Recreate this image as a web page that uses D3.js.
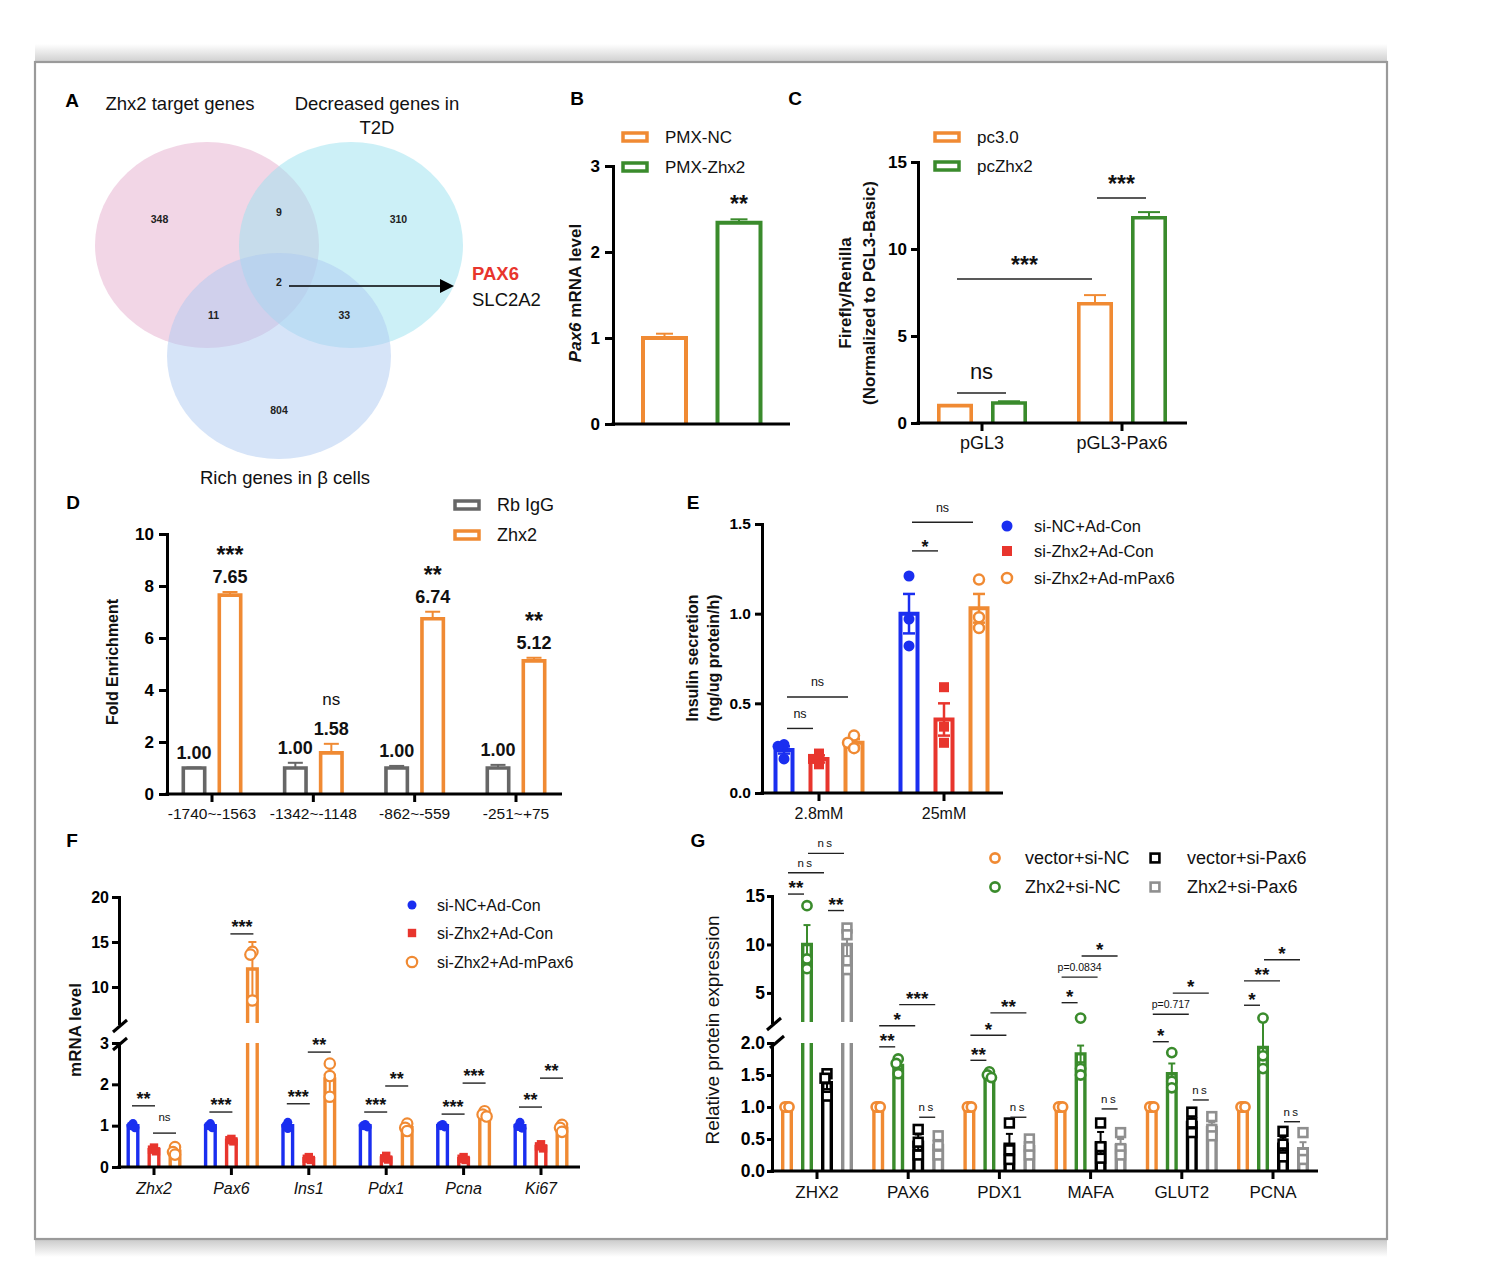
<!DOCTYPE html>
<html><head><meta charset="utf-8"><title>Figure</title>
<script src="https://cdn.jsdelivr.net/npm/d3@7/dist/d3.min.js"></script>
<style>html,body{margin:0;padding:0;background:#fff;}svg{display:block;}</style>
</head><body>
<svg id="fig" width="1498" height="1262" style="font-family:'Liberation Sans',Arial,Helvetica,sans-serif"></svg>
<script>
// ================= DATA =================
// Panel A (Venn)
const vennSetNames = ["Zhx2 target genes", "Decreased genes in|T2D", "Rich genes in β cells"];
const vennRegions = [[0],[0,1],[1],[0,1,2],[0,2],[1,2],[2]];
const vennCounts = [348, 9, 310, 2, 11, 33, 804];
const vennHits = ["PAX6", "SLC2A2"];
// Panel B
const bGroups = ["PMX-NC", "PMX-Zhx2"];
const bMeans = [1.0, 2.34];
const bSem = [0.05, 0.04];
const bSig = ["", "**"];
// Panel C
const cCats = ["pGL3", "pGL3-Pax6"];
const cSeries = ["pc3.0", "pcZhx2"];
const cMeans = [[1.0, 1.15], [6.85, 11.8]];
const cSem = [[0.03, 0.1], [0.5, 0.32]];
const cSig = [
  {a:[0,0], b:[0,1], level:1.72, label:"ns"},
  {a:[0,0], b:[1,0], level:8.28, label:"***"},
  {a:[1,0], b:[1,1], level:12.93, label:"***"}
];
// Panel D
const dCats = ["-1740~-1563", "-1342~-1148", "-862~-559", "-251~+75"];
const dSeries = ["Rb IgG", "Zhx2"];
const dIgG = [1.00, 1.00, 1.00, 1.00];
const dIgGSem = [0.02, 0.2, 0.08, 0.12];
const dZhx2 = [7.65, 1.58, 6.74, 5.12];
const dZhx2Sem = [0.12, 0.35, 0.27, 0.12];
const dSig = ["***", "ns", "**", "**"];
// Panel E
const eCats = ["2.8mM", "25mM"];
const eSeries = ["si-NC+Ad-Con", "si-Zhx2+Ad-Con", "si-Zhx2+Ad-mPax6"];
const eMeans = [[0.24, 0.19, 0.28], [1.0, 0.41, 1.03]];
const eSem = [[0.02, 0.02, 0.02], [0.11, 0.09, 0.08]];
const ePoints = [
  [[0.27, 0.26, 0.19], [0.22, 0.19, 0.16], [0.32, 0.28, 0.25]],
  [[1.21, 0.97, 0.82], [0.59, 0.37, 0.28], [1.19, 0.98, 0.92]]
];
const eSig = [
  {cat:0, a:0, b:1, level:0.36, label:"ns"},
  {cat:0, a:0, b:2, level:0.535, label:"ns"},
  {cat:1, a:0, b:1, level:1.35, label:"*"},
  {cat:1, a:0, b:2, level:1.51, label:"ns"}
];
// Panel F
const fCats = ["Zhx2", "Pax6", "Ins1", "Pdx1", "Pcna", "Ki67"];
const fSeries = ["si-NC+Ad-Con", "si-Zhx2+Ad-Con", "si-Zhx2+Ad-mPax6"];
const fMeans = [
  [1, 1, 1, 1, 1, 1],
  [0.42, 0.65, 0.2, 0.22, 0.2, 0.5],
  [0.38, 12.0, 2.13, 0.95, 1.28, 0.94]
];
const fSem = [
  [0.03, 0.03, 0.04, 0.02, 0.02, 0.04],
  [0.03, 0.02, 0.02, 0.03, 0.02, 0.03],
  [0.05, 3.0, 0.35, 0.05, 0.04, 0.05]
];
const fPoints = [
  [[1.05,1.0,0.95],[1.05,1.0,0.95],[1.08,1.0,0.93],[1.03,1.0,0.97],[1.03,1.0,0.97],[1.08,0.98,0.94]],
  [[0.47,0.42,0.38],[0.68,0.65,0.62],[0.24,0.2,0.17],[0.27,0.21,0.18],[0.24,0.2,0.17],[0.55,0.5,0.45]],
  [[0.48,0.36,0.3],[13.9,13.6,8.5],[2.5,2.2,1.7],[1.05,0.95,0.87],[1.35,1.27,1.22],[1.02,0.95,0.85]]
];
const fSig = [
  {cat:0,a:0,b:1,level:1.48,seg:"lo",label:"**"},  {cat:0,a:1,b:2,level:0.82,seg:"lo",label:"ns"},
  {cat:1,a:0,b:1,level:1.33,seg:"lo",label:"***"}, {cat:1,a:1,b:2,level:15.9,seg:"hi",label:"***"},
  {cat:2,a:0,b:1,level:1.53,seg:"lo",label:"***"}, {cat:2,a:1,b:2,level:2.78,seg:"lo",label:"**"},
  {cat:3,a:0,b:1,level:1.33,seg:"lo",label:"***"}, {cat:3,a:1,b:2,level:1.96,seg:"lo",label:"**"},
  {cat:4,a:0,b:1,level:1.28,seg:"lo",label:"***"}, {cat:4,a:1,b:2,level:2.03,seg:"lo",label:"***"},
  {cat:5,a:0,b:1,level:1.45,seg:"lo",label:"**"},  {cat:5,a:1,b:2,level:2.15,seg:"lo",label:"**"}
];
// Panel G
const gCats = ["ZHX2", "PAX6", "PDX1", "MAFA", "GLUT2", "PCNA"];
const gSeries = ["vector+si-NC", "Zhx2+si-NC", "vector+si-Pax6", "Zhx2+si-Pax6"];
const gMeans = [
  [1, 1, 1, 1, 1, 1],
  [10.0, 1.65, 1.5, 1.83, 1.52, 1.93],
  [1.38, 0.45, 0.42, 0.44, 0.76, 0.42],
  [10.0, 0.4, 0.38, 0.4, 0.68, 0.35]
];
const gSem = [
  [0, 0, 0, 0, 0, 0],
  [2.0, 0.05, 0.03, 0.13, 0.16, 0.1],
  [0.1, 0.12, 0.16, 0.17, 0.12, 0.1],
  [1.2, 0.1, 0.08, 0.1, 0.08, 0.1]
];
const gPoints = [
  [[1,1,1],[1,1,1],[1,1,1],[1,1,1],[1,1,1],[1,1,1]],
  [[14,8.5,7.5],[1.75,1.68,1.52],[1.55,1.5,1.46],[2.4,1.6,1.5],[1.85,1.4,1.3],[2.4,1.8,1.6]],
  [[1.52,1.45,1.17],[0.65,0.45,0.25],[0.75,0.33,0.18],[0.75,0.38,0.2],[0.92,0.75,0.6],[0.62,0.42,0.22]],
  [[11.7,11.0,7.4],[0.55,0.4,0.25],[0.5,0.38,0.25],[0.6,0.35,0.25],[0.85,0.65,0.55],[0.6,0.28,0.18]]
];
const gSig = [
  {cat:0,a:0,b:1,level:15.2,seg:"hi",label:"**"},{cat:0,a:0,b:2,level:17.4,seg:"hi",label:"ns"},
  {cat:0,a:1,b:3,level:19.4,seg:"hi",label:"ns"},{cat:0,a:2,b:3,level:13.5,seg:"hi",label:"**"},
  {cat:1,a:0,b:1,level:1.94,seg:"lo",label:"**"},{cat:1,a:0,b:2,level:2.27,seg:"lo",label:"*"},
  {cat:1,a:1,b:3,level:2.6,seg:"lo",label:"***"},{cat:1,a:2,b:3,level:0.84,seg:"lo",label:"ns"},
  {cat:2,a:0,b:1,level:1.73,seg:"lo",label:"**"},{cat:2,a:0,b:2,level:2.12,seg:"lo",label:"*"},
  {cat:2,a:1,b:3,level:2.47,seg:"lo",label:"**"},{cat:2,a:2,b:3,level:0.84,seg:"lo",label:"ns"},
  {cat:3,a:0,b:1,level:2.63,seg:"lo",label:"*"},{cat:3,a:0,b:2,level:3.03,seg:"lo",label:"p=0.0834"},
  {cat:3,a:1,b:3,level:3.36,seg:"lo",label:"*"},{cat:3,a:2,b:3,level:0.97,seg:"lo",label:"ns"},
  {cat:4,a:0,b:1,level:2.02,seg:"lo",label:"*"},{cat:4,a:0,b:2,level:2.45,seg:"lo",label:"p=0.717"},
  {cat:4,a:1,b:3,level:2.78,seg:"lo",label:"*"},{cat:4,a:2,b:3,level:1.11,seg:"lo",label:"ns"},
  {cat:5,a:0,b:1,level:2.59,seg:"lo",label:"*"},{cat:5,a:0,b:2,level:2.97,seg:"lo",label:"**"},
  {cat:5,a:1,b:3,level:3.3,seg:"lo",label:"*"},{cat:5,a:2,b:3,level:0.77,seg:"lo",label:"ns"}
];

// ================= STYLE / HELPERS =================
const FF = "'Liberation Sans', Arial, Helvetica, sans-serif";
const ORANGE = "#F08A33", GREEN = "#3A8B2C", BLUE = "#1A2EF0", RED = "#E8352D";
const DGRAY = "#676767", LGRAY = "#8F8F8F", INK = "#111";
const svg = d3.select("#fig");

function ct(g, x, yc, s, size, opt = {}) {
  const stars = /^\*+$/.test(s);
  const lower = /^[acemnorsuvwxz]+$/.test(s);
  const k = stars ? 0.6 : (lower ? 0.27 : 0.36);
  const t = g.append("text").attr("x", x).attr("y", yc + k * size).text(s)
    .attr("font-size", size).attr("font-family", FF)
    .attr("font-weight", opt.weight || "normal")
    .attr("text-anchor", opt.anchor || "middle")
    .attr("fill", opt.fill || INK);
  if (opt.italic) t.attr("font-style", "italic");
  if (opt.ls) t.attr("letter-spacing", opt.ls);
  return t;
}
function rlabel(g, cx, cy, parts, size, weight) {
  const t = g.append("text").attr("transform", `translate(${cx + 0.36 * size},${cy}) rotate(-90)`)
    .attr("text-anchor", "middle").attr("font-size", size).attr("font-weight", weight || "bold")
    .attr("font-family", FF).attr("fill", INK);
  parts.forEach(p => { const ts = t.append("tspan").text(p[0]); if (p[1]) ts.attr("font-style", "italic"); });
}
function yAxis(g, scale, x, ticks, fmt, size, tsz, pad) {
  const ax = d3.axisLeft(scale).tickValues(ticks).tickFormat(fmt).tickSize(tsz || 7).tickSizeOuter(0).tickPadding(pad == null ? 4 : pad);
  const a = g.append("g").attr("transform", `translate(${x},0)`).call(ax).attr("font-family", FF);
  a.select(".domain").attr("stroke", "#000").attr("stroke-width", 3).attr("stroke-linecap", "square");
  a.selectAll(".tick line").attr("stroke", "#000").attr("stroke-width", 3);
  a.selectAll(".tick text").attr("font-size", size).attr("font-weight", "bold").attr("fill", "#000");
  return a;
}
function hline(g, x1, x2, y, sw, color) {
  g.append("line").attr("x1", x1).attr("x2", x2).attr("y1", y).attr("y2", y)
    .attr("stroke", color || "#000").attr("stroke-width", sw);
}
function vline(g, x, y1, y2, sw, color) {
  g.append("line").attr("x1", x).attr("x2", x).attr("y1", y1).attr("y2", y2)
    .attr("stroke", color || "#000").attr("stroke-width", sw);
}
function xTicks(g, xs, y, len) { xs.forEach(x => vline(g, x, y, y + len, 3)); }
function barShape(g, cx, outerW, yTop, yBase, color, sw) {
  const w = outerW - sw;
  g.append("path").attr("d", `M${cx - w / 2},${yBase}V${yTop}H${cx + w / 2}V${yBase}`)
    .attr("fill", "none").attr("stroke", color).attr("stroke-width", sw);
}
function errBar(g, cx, yM, yHi, yLo, capW, color, sw) {
  vline(g, cx, yM, yHi, sw, color); hline(g, cx - capW / 2, cx + capW / 2, yHi, sw, color);
  if (yLo != null) { vline(g, cx, yM, yLo, sw, color); hline(g, cx - capW / 2, cx + capW / 2, yLo, sw, color); }
}
function marker(g, type, x, y, color, s, sw) {
  if (type === "dot") g.append("circle").attr("cx", x).attr("cy", y).attr("r", s).attr("fill", color);
  else if (type === "sq") g.append("rect").attr("x", x - s).attr("y", y - s).attr("width", 2 * s).attr("height", 2 * s).attr("fill", color);
  else if (type === "oc") g.append("circle").attr("cx", x).attr("cy", y).attr("r", s).attr("fill", "#fff").attr("stroke", color).attr("stroke-width", sw);
  else if (type === "os") g.append("rect").attr("x", x - s).attr("y", y - s).attr("width", 2 * s).attr("height", 2 * s).attr("fill", "#fff").attr("stroke", color).attr("stroke-width", sw);
}
function jitter(ys, d, k) {
  const off = ys.map(() => 0);
  for (let i = 1; i < ys.length; i++) {
    const taken = new Set();
    for (let j = 0; j < i; j++) if (Math.abs(ys[i] - ys[j]) < d) taken.add(off[j]);
    if (taken.has(0)) off[i] = taken.has(-k) ? k : -k;
    if (taken.has(off[i]) && off[i] !== 0) off[i] = taken.has(k) ? (taken.has(-k) ? 0 : -k) : k;
  }
  return off;
}
function sigLine(g, x1, x2, y, label, size, gap, opt = {}) {
  hline(g, x1, x2, y, 1.4, "#222");
  ct(g, (x1 + x2) / 2, y - gap, label, size, opt);
}
function legendRect(g, x, y, color, label, size) {
  g.append("rect").attr("x", x).attr("y", y - 4).attr("width", 24).attr("height", 8)
    .attr("fill", "#fff").attr("stroke", color).attr("stroke-width", 3.5);
  ct(g, x + 42, y, label, size, { anchor: "start" });
}
function panelLetter(x, y, s) { ct(svg, x, y, s, 19, { weight: "bold", fill: "#000" }); }

// ================= FRAME =================
const defs = svg.append("defs");
const gt = defs.append("linearGradient").attr("id", "shTop").attr("x1", 0).attr("y1", 0).attr("x2", 0).attr("y2", 1);
gt.append("stop").attr("offset", 0).attr("stop-color", "#fff");
gt.append("stop").attr("offset", 1).attr("stop-color", "#cfcfcf");
const gb = defs.append("linearGradient").attr("id", "shBot").attr("x1", 0).attr("y1", 0).attr("x2", 0).attr("y2", 1);
gb.append("stop").attr("offset", 0).attr("stop-color", "#c9c9c9");
gb.append("stop").attr("offset", 1).attr("stop-color", "#fff");
svg.append("rect").attr("x", 35).attr("y", 44).attr("width", 1352).attr("height", 18).attr("fill", "url(#shTop)");
svg.append("rect").attr("x", 35).attr("y", 1239).attr("width", 1352).attr("height", 18).attr("fill", "url(#shBot)");
svg.append("rect").attr("x", 35).attr("y", 62).attr("width", 1352).attr("height", 1177)
  .attr("fill", "#fff").attr("stroke", "#9a9a9a").attr("stroke-width", 2.2);

// ================= PANEL A =================
(function () {
  const g = svg.append("g");
  panelLetter(72, 100, "A");
  const centers = [[207, 245], [351, 245], [279, 356]];
  const rx = 112, ry = 103;
  const fills = ["#e5adcd", "#99e1ef", "#adc9f1"];
  centers.forEach((c, i) => g.append("ellipse").attr("cx", c[0]).attr("cy", c[1]).attr("rx", rx).attr("ry", ry)
    .attr("fill", fills[i]).attr("fill-opacity", 0.5));
  const t0 = vennSetNames[0], t1 = vennSetNames[1].split("|"), t2 = vennSetNames[2];
  ct(g, 180, 103, t0, 18.5);
  ct(g, 377, 103, t1[0], 18.5); ct(g, 377, 127, t1[1], 18.5);
  ct(g, 285, 477, t2, 18.5);
  vennRegions.forEach((reg, i) => {
    let px = d3.mean(reg, k => centers[k][0]), py = d3.mean(reg, k => centers[k][1]);
    const others = [0, 1, 2].filter(k => !reg.includes(k));
    let dx = 0, dy = 0;
    others.forEach(k => { const vx = px - centers[k][0], vy = py - centers[k][1]; const n = Math.hypot(vx, vy) || 1; dx += vx / n; dy += vy / n; });
    const n = Math.hypot(dx, dy) || 1;
    const dist = reg.length === 1 ? 54 : (reg.length === 2 ? 33 : 0);
    ct(g, px + dx / n * dist, py + dy / n * dist, String(vennCounts[i]), 10.5, { weight: "bold", fill: "#222" });
  });
  hline(g, 289, 443, 286, 1.6, "#000");
  g.append("path").attr("d", "M440,279 L454,286 L440,293 Z").attr("fill", "#000");
  ct(g, 472, 273, vennHits[0], 18.5, { anchor: "start", weight: "bold", fill: "#E8352D" });
  ct(g, 472, 299, vennHits[1], 18.5, { anchor: "start" });
})();

// ================= PANEL B =================
(function () {
  const g = svg.append("g");
  panelLetter(577, 98, "B");
  const y = d3.scaleLinear().domain([0, 3]).range([424, 166]);
  const x = d3.scalePoint().domain(bGroups).range([664.5, 739]);
  const cols = [ORANGE, GREEN];
  bGroups.forEach((k, i) => {
    const cx = x(k);
    errBar(g, cx, y(bMeans[i]), y(bMeans[i] + bSem[i]), null, 17, cols[i], 2);
    barShape(g, cx, 47, y(bMeans[i]), 424, cols[i], 4);
    if (bSig[i]) ct(g, cx, y(bMeans[i] + bSem[i]) - 21, bSig[i], 23, { weight: "bold" });
  });
  yAxis(g, y, 613, [0, 1, 2, 3], d3.format("d"), 17, 8, 5);
  hline(g, 611.5, 790, 424, 3);
  rlabel(g, 575, 293, [["Pax6", true], [" mRNA level", false]], 17, "bold");
  bGroups.forEach((k, i) => legendRect(g, 623, 137 + i * 30, cols[i], k, 17));
})();

// ================= PANEL C =================
(function () {
  const g = svg.append("g");
  panelLetter(795, 98, "C");
  const y = d3.scaleLinear().domain([0, 15]).range([423, 162]);
  const x0 = d3.scalePoint().domain(cCats).range([982, 1122]);
  const x1 = d3.scalePoint().domain(cSeries).range([-27, 27]);
  const cols = [ORANGE, GREEN];
  const cx = (ci, si) => x0(cCats[ci]) + x1(cSeries[si]);
  cCats.forEach((c, ci) => cSeries.forEach((s, si) => {
    const m = cMeans[ci][si], e = cSem[ci][si];
    errBar(g, cx(ci, si), y(m), y(m + e), null, 22, cols[si], 2);
    barShape(g, cx(ci, si), 36, y(m), 423, cols[si], 3.6);
  }));
  cSig.forEach(s => {
    const xa = cx(s.a[0], s.a[1]), xb = cx(s.b[0], s.b[1]);
    sigLine(g, xa + 2, xb - 3, y(s.level), s.label, s.label === "ns" ? 22 : 23, 20, { weight: s.label === "ns" ? "normal" : "bold" });
  });
  yAxis(g, y, 918, [0, 5, 10, 15], d3.format("d"), 17);
  hline(g, 916.5, 1187, 423, 3);
  xTicks(g, cCats.map(c => x0(c)), 423, 8);
  cCats.forEach(c => ct(g, x0(c), 443, c, 18));
  rlabel(g, 845, 293, [["Firefly/Renilla", false]], 17, "bold");
  rlabel(g, 869, 293, [["(Normalized to PGL3-Basic)", false]], 17, "bold");
  cSeries.forEach((s, i) => legendRect(g, 935, 137 + i * 29, cols[i], s, 17));
})();

// ================= PANEL D =================
(function () {
  const g = svg.append("g");
  panelLetter(73, 502, "D");
  const y = d3.scaleLinear().domain([0, 10]).range([794, 534]);
  const x0 = d3.scalePoint().domain(dCats).range([212, 516]);
  const x1 = d3.scalePoint().domain(dSeries).range([-18, 18]);
  const series = [[dIgG, dIgGSem, DGRAY], [dZhx2, dZhx2Sem, ORANGE]];
  dCats.forEach((c, ci) => {
    series.forEach((s, si) => {
      const cx = x0(c) + x1(dSeries[si]);
      const m = s[0][ci], e = s[1][ci];
      errBar(g, cx, y(m), y(m + e), null, 15, s[2], 2);
      barShape(g, cx, 25, y(m), 794, s[2], 3.6);
      const lc = y(m + e) - 15;
      ct(g, cx, lc, d3.format(".2f")(m), 18, { weight: "bold" });
      if (si === 1) {
        const ns = dSig[ci] === "ns";
        ct(g, cx, lc - 28, dSig[ci], ns ? 17 : 23, { weight: ns ? "normal" : "bold" });
      }
    });
  });
  yAxis(g, y, 167, [0, 2, 4, 6, 8, 10], d3.format("d"), 17, 8, 5);
  hline(g, 165.5, 562, 794, 3);
  xTicks(g, dCats.map(c => x0(c)), 794, 8);
  dCats.forEach(c => ct(g, x0(c), 813, c, 15.5));
  rlabel(g, 112, 662, [["Fold Enrichment", false]], 16, "bold");
  legendRect(g, 455, 505, DGRAY, dSeries[0], 18);
  legendRect(g, 455, 535, ORANGE, dSeries[1], 18);
})();

// ================= PANEL E =================
(function () {
  const g = svg.append("g");
  panelLetter(693, 502, "E");
  const y = d3.scaleLinear().domain([0, 1.5]).range([793, 524]);
  const x0 = d3.scalePoint().domain(eCats).range([819, 944]);
  const x1 = d3.scalePoint().domain(eSeries).range([-35, 35]);
  const cols = [BLUE, RED, ORANGE];
  const mk = [["dot", 5.5, 0], ["sq", 5, 0], ["oc", 5, 2.5]];
  const cx = (ci, si) => x0(eCats[ci]) + x1(eSeries[si]);
  eCats.forEach((c, ci) => eSeries.forEach((s, si) => {
    const m = eMeans[ci][si], e = eSem[ci][si], X = cx(ci, si);
    barShape(g, X, 21, y(m), 793, cols[si], 4);
    errBar(g, X, y(m), y(m + e), y(m - e), 12, cols[si], 2.5);
    const ys = ePoints[ci][si].map(v => y(v));
    const off = jitter(ys, 9, 6);
    ys.forEach((yy, k) => marker(g, mk[si][0], X + off[k], yy, cols[si], mk[si][1], mk[si][2]));
  }));
  eSig.forEach(s => {
    const xa = cx(s.cat, s.a), xb = cx(s.cat, s.b);
    const star = s.label !== "ns";
    sigLine(g, xa + 3, xb - 6, y(s.level), s.label, star ? 18 : 12.5, star ? 9 : 14, { weight: star ? "bold" : "normal" });
  });
  yAxis(g, y, 762, [0, 0.5, 1.0, 1.5], d3.format(".1f"), 15.5);
  hline(g, 760.5, 1003, 793, 3);
  xTicks(g, eCats.map(c => x0(c)), 793, 8);
  eCats.forEach(c => ct(g, x0(c), 813, c, 16));
  rlabel(g, 692, 658, [["Insulin secretion", false]], 16, "bold");
  rlabel(g, 713, 658, [["(ng/ug protein/h)", false]], 16, "bold");
  eSeries.forEach((s, i) => {
    const ly = [526, 551, 578][i];
    marker(g, mk[i][0], 1007, ly, cols[i], mk[i][1], mk[i][2]);
    ct(g, 1034, ly, s, 16.5, { anchor: "start" });
  });
})();

// ================= PANEL F =================
(function () {
  const g = svg.append("g");
  panelLetter(72, 840, "F");
  const yLo = d3.scaleLinear().domain([0, 3]).range([1167, 1043]);
  const yHi = d3.scaleLinear().domain([6, 20]).range([1023, 897]);
  const yv = v => v <= 3 ? yLo(v) : yHi(Math.max(v, 6));
  const x0 = d3.scalePoint().domain(fCats).range([154, 541]);
  const x1 = d3.scalePoint().domain(fSeries).range([-21, 21]);
  const cols = [BLUE, RED, ORANGE];
  const mk = [["dot", 4.5, 0], ["sq", 4.2, 0], ["oc", 5.2, 2.2]];
  const cx = (ci, si) => x0(fCats[ci]) + x1(fSeries[si]);
  fCats.forEach((c, ci) => fSeries.forEach((s, si) => {
    const m = fMeans[si][ci], e = fSem[si][ci], X = cx(ci, si), sw = 3.4, w = 13 - sw;
    if (m > 3) {
      vline(g, X - w / 2, 1167, yLo(3), sw, cols[si]); vline(g, X + w / 2, 1167, yLo(3), sw, cols[si]);
      barShape(g, X, 13, yHi(m), yHi(6), cols[si], sw);
    } else barShape(g, X, 13, yv(m), 1167, cols[si], sw);
    errBar(g, X, yv(m), yv(m + e), yv(m - e), 8, cols[si], 2);
    const ys = fPoints[si][ci].map(v => yv(v));
    const off = jitter(ys, 6, 2);
    ys.forEach((yy, k) => marker(g, mk[si][0], X + off[k], yy, cols[si], mk[si][1], mk[si][2]));
  }));
  fSig.forEach(s => {
    const xa = cx(s.cat, s.a), xb = cx(s.cat, s.b);
    const yy = s.seg === "hi" ? yHi(s.level) : yLo(s.level);
    const star = s.label !== "ns";
    sigLine(g, xa - 1, xb + 1, yy, s.label, star ? 18 : 11.5, star ? 12 : 15, { weight: star ? "bold" : "normal" });
  });
  yAxis(g, yLo, 119, [0, 1, 2, 3], d3.format("d"), 16, 7, 3);
  yAxis(g, yHi, 119, [10, 15, 20], d3.format("d"), 16, 7, 3);
  g.append("line").attr("x1", 113).attr("y1", 1032).attr("x2", 127).attr("y2", 1020).attr("stroke", "#000").attr("stroke-width", 3);
  g.append("line").attr("x1", 113).attr("y1", 1050).attr("x2", 127).attr("y2", 1038).attr("stroke", "#000").attr("stroke-width", 3);
  hline(g, 117.5, 580, 1167, 3);
  xTicks(g, fCats.map(c => x0(c)), 1167, 8);
  fCats.forEach(c => ct(g, x0(c), 1188, c, 16, { italic: true }));
  rlabel(g, 75, 1030, [["mRNA level", false]], 17, "bold");
  fSeries.forEach((s, i) => {
    const ly = [905, 933, 962][i];
    marker(g, mk[i][0], 412, ly, cols[i], mk[i][1], mk[i][2]);
    ct(g, 437, ly, s, 16, { anchor: "start" });
  });
})();

// ================= PANEL G =================
(function () {
  const g = svg.append("g");
  panelLetter(698, 840, "G");
  const yLo = d3.scaleLinear().domain([0, 2]).range([1171, 1043]);
  const yHi = d3.scaleLinear().domain([2, 15]).range([1022, 896]);
  const yv = v => v <= 2 ? yLo(v) : yHi(v);
  const x0 = d3.scalePoint().domain(gCats).range([817, 1273]);
  const x1 = d3.scalePoint().domain(gSeries).range([-30, 30]);
  const cols = [ORANGE, GREEN, "#000", LGRAY];
  const mk = [["oc", 4.6, 2.6], ["oc", 4.6, 2.6], ["os", 4.4, 2.6], ["os", 4.4, 2.6]];
  const cx = (ci, si) => x0(gCats[ci]) + x1(gSeries[si]);
  gCats.forEach((c, ci) => gSeries.forEach((s, si) => {
    const m = gMeans[si][ci], e = gSem[si][ci], X = cx(ci, si), sw = 3.4, w = 12 - sw;
    if (m > 2.2) {
      vline(g, X - w / 2, 1171, yLo(2), sw, cols[si]); vline(g, X + w / 2, 1171, yLo(2), sw, cols[si]);
      barShape(g, X, 12, yHi(m), yHi(2), cols[si], sw);
    } else barShape(g, X, 12, yv(m), 1171, cols[si], sw);
    if (e > 0) errBar(g, X, yv(m), yv(m + e), yv(m - e), 7, cols[si], 2);
    const ys = gPoints[si][ci].map(v => yv(v));
    const off = jitter(ys, 6, 2);
    ys.forEach((yy, k) => marker(g, mk[si][0], X + off[k], yy, cols[si], mk[si][1], mk[si][2]));
  }));
  gSig.forEach(s => {
    const xa = cx(s.cat, s.a), xb = cx(s.cat, s.b);
    const yy = s.seg === "hi" ? yHi(s.level) : yLo(s.level);
    const star = /^\*+$/.test(s.label);
    const isP = s.label.startsWith("p=");
    const size = star ? 19 : (isP ? 10.5 : 11.5);
    const gap = star ? 11 : (isP ? 10 : 9);
    sigLine(g, xa + 1, xb - 3, yy, s.label, size, gap, { weight: star ? "bold" : "normal", ls: s.label === "ns" ? 2.5 : null });
  });
  yAxis(g, yLo, 772, [0, 0.5, 1.0, 1.5, 2.0], d3.format(".1f"), 17.5, 5, 2);
  yAxis(g, yHi, 772, [5, 10, 15], d3.format("d"), 17.5, 5, 2);
  g.append("line").attr("x1", 767).attr("y1", 1030).attr("x2", 781).attr("y2", 1018).attr("stroke", "#000").attr("stroke-width", 3);
  g.append("line").attr("x1", 770).attr("y1", 1048).attr("x2", 784).attr("y2", 1036).attr("stroke", "#000").attr("stroke-width", 3);
  hline(g, 770.5, 1318, 1171, 3);
  xTicks(g, gCats.map(c => x0(c)), 1171, 8);
  gCats.forEach(c => ct(g, x0(c), 1192, c, 17));
  rlabel(g, 712, 1030, [["Relative protein expression", false]], 19, "normal");
  gSeries.forEach((s, i) => {
    const lx = i < 2 ? 995 : 1155, ly = i % 2 === 0 ? 858 : 887;
    marker(g, mk[i][0], lx, ly, cols[i], mk[i][1], mk[i][2]);
    ct(g, i < 2 ? 1025 : 1187, ly, s, 18, { anchor: "start" });
  });
})();
</script>
</body></html>
